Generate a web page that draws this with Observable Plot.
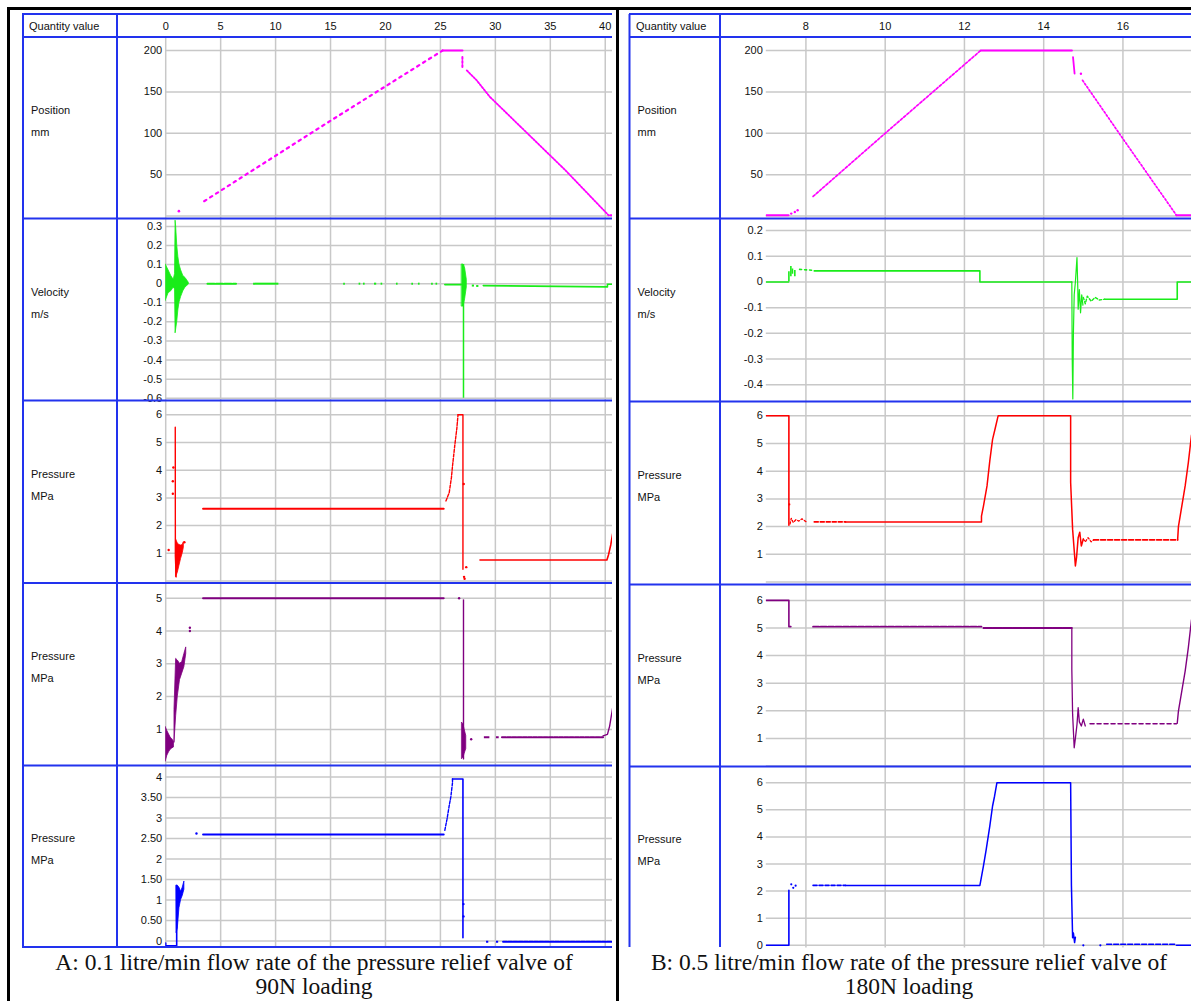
<!DOCTYPE html>
<html><head><meta charset="utf-8">
<script src="https://cdn.jsdelivr.net/npm/d3@7"></script>
<script src="https://cdn.jsdelivr.net/npm/@observablehq/plot@0.6"></script>
<style>
body{margin:0;background:#fff;}
#wrap{position:relative;width:1191px;height:1001px;overflow:hidden;background:#fff;font-family:"Liberation Sans",Arial,sans-serif;}
.lbl{position:absolute;font-size:11px;color:#111;line-height:13px;transform:translateY(-50%);white-space:nowrap;}
.cap{position:absolute;font-family:"Liberation Serif","Times New Roman",serif;font-size:23.5px;color:#111;text-align:center;line-height:23.5px;white-space:pre;}
svg.ov{position:absolute;left:0;top:0;pointer-events:none;}
</style></head><body><div id="wrap"></div>
<script>
// ---------- axis ticks ----------
const xTicksA = [0,5,10,15,20,25,30,35,40];
const xTicksB = [8,10,12,14,16];
const yTicksPos = [50,100,150,200];
const yGridPos = [0,50,100,150,200];
const yTicksVelA = [0.3,0.2,0.1,0,-0.1,-0.2,-0.3,-0.4,-0.5,-0.6];
const yTicksVelB = [0.2,0.1,0,-0.1,-0.2,-0.3,-0.4];
const yTicksP6 = [1,2,3,4,5,6];
const yGridP6 = [0,1,2,3,4,5,6];
const yTicksP5 = [1,2,3,4,5];
const yGridP5 = [0,1,2,3,4,5];
const yTicksA5 = [0,0.5,1,1.5,2,2.5,3,3.5,4];
const yTicksB5 = [0,1,2,3,4,5,6];
const rowNames = [["Position","mm"],["Velocity","m/s"],["Pressure","MPa"],["Pressure","MPa"],["Pressure","MPa"]];
const headerText = "Quantity value";
const captionA = ["A: 0.1 litre/min flow rate of the pressure relief valve of","90N loading"];
const captionB = ["B: 0.5 litre/min flow rate of the pressure relief valve of","180N loading"];

// ---------- Panel A data (time s, value) ----------
const posA_dot = [[1.2,6]];
const posA_rise = [[3.5,18],[14.5,111],[25.2,200]];
const posA_top = [[25.2,200],[27.0,200]];
const posA_drop = [[27.0,192],[27.0,178]];
const posA_fall = [[27.4,176],[28.3,164],[29.5,144],[36.4,55],[40.3,1],[40.67,1]];

const velA_env = [[0.0,-0.09,0.1],[0.26,-0.05,0.07],[0.5,-0.04,0.04],[0.73,-0.02,0.02],[0.85,-0.03,0.05],[0.9,-0.26,0.33],[0.95,-0.24,0.3],[1.05,-0.2,0.2],[1.15,-0.14,0.14],[1.25,-0.1,0.1],[1.4,-0.07,0.07],[1.6,-0.04,0.04],[1.8,-0.02,0.03],[2.1,-0.005,0.005]];
const velA_segs = [[3.8,6.4,0],[8.0,10.3,0]];
const velA_bits = [[16.2,16.35,0],[17.6,17.75,0],[18.0,18.15,0],[19.0,19.2,0],[19.6,19.75,0],[21.0,21.15,0],[22.4,22.55,0],[23.0,23.15,0],[24.2,24.35,0],[24.6,24.75,0],[27.9,28.1,-0.01],[28.3,28.5,-0.012]];
const velA_pre = [[25.4,-0.005],[26.9,-0.005]];
const velA_spike = [[27.1,-0.6,0.1]];
const velA_env2 = [[26.97,-0.12,0.1],[27.1,-0.12,0.1],[27.25,-0.08,0.08],[27.4,-0.02,0.02]];
const velA_tail = [[28.9,-0.01],[40.2,-0.017],[40.2,-0.003],[40.67,-0.003]];

const prA_dots = [[0.27,1.12],[0.7,4.1],[0.65,3.6],[0.65,3.15],[1.7,1.4],[27.12,3.5],[27.15,0.15],[27.35,0.5],[27.2,0.08]];
const prA_spike = [[0.87,5.55],[0.88,0.9],[0.95,0.15]];
const prA_env = [[0.95,0.15,1.5],[1.1,0.3,1.35],[1.25,0.55,1.3],[1.4,0.8,1.28],[1.55,1.0,1.3],[1.65,1.2,1.4]];
const prA_flat1 = [[3.4,2.61],[25.3,2.61]];
const prA_rise = [[25.5,2.89],[25.8,3.19],[26.0,3.73],[26.1,4.15],[26.3,4.87],[26.5,5.53],[26.6,6.0]];
const prA_top = [[26.6,6.0],[27.05,6.0],[27.05,0.42]];
const prA_flat2 = [[28.6,0.76],[40.15,0.76],[40.3,0.95],[40.5,1.3],[40.67,1.7]];

const puA_env1 = [[0.0,0.02,1.07],[0.15,0.2,0.95],[0.3,0.3,0.85],[0.45,0.38,0.75],[0.6,0.42,0.7],[0.75,0.45,0.62]];
const puA_env2 = [[0.8,0.6,1.6],[0.95,1.4,3.15],[1.1,2.0,3.1],[1.3,2.5,3.0],[1.5,2.7,3.05],[1.7,2.9,3.3],[1.87,3.3,3.5]];
const puA_dots = [[2.2,4.0],[2.2,4.1],[26.7,5.0],[27.8,0.7]];
const puA_flat1 = [[3.4,5.0],[25.3,5.0]];
const puA_drop = [[27.1,4.95],[27.1,0.1]];
const puA_env3 = [[26.98,0.1,1.2],[27.1,0.15,1.15],[27.2,0.25,1.0],[27.35,0.4,0.8]];
const puA_bits = [[29.0,29.5,0.76],[30.1,30.35,0.76]];
const puA_flat2 = [[30.6,0.76],[39.8,0.76]];
const puA_rise = [[39.8,0.8],[40.2,0.85],[40.4,1.1],[40.67,1.65]];

const blA_start = [[0.0,-0.05],[0.0,-0.12],[1.0,-0.12],[1.0,1.35]];
const blA_env = [[1.0,0.2,1.35],[1.1,0.3,1.35],[1.25,0.8,1.3],[1.4,1.0,1.2],[1.55,1.1,1.3],[1.7,1.25,1.45]];
const blA_dots = [[2.8,2.62],[27.1,0.9],[27.1,0.6]];
const blA_flat1 = [[3.4,2.6],[25.3,2.6]];
const blA_rise = [[25.4,2.7],[25.6,2.97],[25.8,3.3],[25.95,3.52],[26.1,3.86],[26.1,3.95]];
const blA_top = [[26.1,3.95],[27.05,3.95],[27.05,0.08]];
const blA_bits = [[29.2,29.4,-0.02],[30.1,30.3,-0.02]];
const blA_flat2 = [[30.7,-0.02],[40.67,-0.02]];

// ---------- Panel B data ----------
const posB_flat1 = [[7.0,1],[7.56,1]];
const posB_dots = [[7.63,3],[7.72,5],[7.79,7],[14.94,172]];
const posB_rise = [[8.18,23.7],[10.0,100],[12.41,200]];
const posB_top = [[12.41,200],[14.71,200]];
const posB_drop = [[14.74,192],[14.78,172]];
const posB_fall = [[14.98,164],[15.91,99.6],[17.35,1]];
const posB_flat2 = [[17.35,1],[17.73,1]];

const velB_a = [[7.0,0],[7.56,0]];
const velB_burst = [[7.57,0.0,0.04],[7.62,0.02,0.06],[7.66,0.03,0.05],[7.72,0.02,0.045]];
const velB_dash = [[7.84,0.049],[8.21,0.045]];
const velB_b = [[8.21,0.043],[12.39,0.043],[12.39,0],[14.71,0]];
const velB_spike = [[14.71,0],[14.72,-0.3],[14.735,-0.455],[14.75,-0.2],[14.77,-0.05],[14.8,0.0],[14.84,0.095],[14.86,-0.02],[14.87,-0.106],[14.9,-0.03],[14.93,-0.12],[14.96,-0.05],[14.99,-0.09]];
const velB_osc = [[15.0,-0.06],[15.05,-0.085],[15.1,-0.055],[15.2,-0.075],[15.3,-0.06],[15.4,-0.07],[15.54,-0.067]];
const velB_c = [[15.54,-0.067],[17.37,-0.067],[17.37,0],[17.73,0]];

const prB_a = [[7.0,6],[7.57,6],[7.57,2.05]];
const prB_dots = [[7.58,2.8]];
const prB_osc = [[7.6,2.1],[7.63,2.3],[7.68,2.15],[7.75,2.25],[7.82,2.2],[7.9,2.28],[8.0,2.18]];
const prB_dash1 = [[8.21,2.17],[9.0,2.17]];
const prB_flat = [[9.0,2.17],[12.43,2.17],[12.43,2.38],[12.48,2.74],[12.57,3.47],[12.64,4.37],[12.71,5.15],[12.78,5.57],[12.85,6.0],[14.68,6],[14.68,3.6],[14.73,1.9],[14.8,0.58],[14.83,0.9],[14.87,1.6],[14.91,1.8],[14.95,1.3],[15.0,1.55]];
const prB_osc2 = [[15.0,1.55],[15.05,1.45],[15.12,1.6],[15.2,1.45],[15.26,1.52]];
const prB_dash2 = [[15.26,1.52],[17.38,1.52]];
const prB_rise = [[17.38,1.52],[17.4,2.0],[17.57,3.47],[17.65,4.31],[17.73,5.3]];

const puB_a = [[7.0,6],[7.57,6],[7.57,5.05],[7.62,5.05]];
const puB_dash1 = [[8.18,5.05],[12.43,5.05]];
const puB_dash2 = [[12.48,5.0],[14.71,5.0]];
const puB_drop = [[14.71,5.0],[14.71,3.5],[14.73,1.87],[14.77,0.66],[14.8,1.0],[14.84,1.5],[14.87,2.11],[14.9,1.6],[14.95,1.45],[15.0,1.7],[15.05,1.45]];
const puB_dash3 = [[15.17,1.53],[17.35,1.53]];
const puB_rise = [[17.37,1.55],[17.4,1.99],[17.57,3.44],[17.65,4.29],[17.73,5.3]];

const blB_a = [[7.0,0],[7.57,0],[7.57,2.03]];
const blB_dots = [[7.63,2.25],[7.68,2.12],[7.74,2.2],[15.0,0.0],[15.43,0.0]];
const blB_dash1 = [[8.18,2.21],[9.0,2.21]];
const blB_main = [[9.0,2.21],[12.39,2.21],[12.41,2.37],[12.48,2.93],[12.55,3.54],[12.64,4.4],[12.71,5.14],[12.76,5.5],[12.82,6.0],[14.68,6],[14.7,2.2],[14.73,0.28],[14.75,0.45],[14.78,0.1],[14.8,0.3]];
const blB_dash2 = [[15.59,0.04],[17.35,0.04]];
const blB_end = [[17.35,0],[17.73,0]];

// ---------- styles ----------
const MAG = "#ff00ff", GRN = "#19ec19", RED = "#ff0000", PUR = "#800080", BLU = "#0000ff";
const GRID = "#c8c8c8", TAB = "#2233ee";

const X = d => d[0], Y = d => d[1];
const L = (data, c, o = {}) => Plot.line(data, {x: X, y: Y, stroke: c, strokeWidth: 1.6, clip: true, ...o});
const E = (data, c) => Plot.areaY(data, {x: X, y1: d => d[1], y2: d => d[2], fill: c, stroke: c, strokeWidth: 0.8, clip: true});
const D = (data, c, r = 1.2) => Plot.dot(data, {x: X, y: Y, r, fill: c, stroke: null, clip: true});
const S = (data, c, o = {}) => Plot.ruleY(data, {x1: d => d[0], x2: d => d[1], y: d => d[2], stroke: c, strokeWidth: 1.6, clip: true, ...o});
const R = (data, c, w = 1.4) => Plot.ruleX(data, {x: X, y1: d => d[1], y2: d => d[2], stroke: c, strokeWidth: w, clip: true});

const fmtStr = d => String(d);
const fmtHalf = d => Number.isInteger(d) ? String(d) : d.toFixed(2);

const panels = [
  {
    left: 117, plotLeft: 165.2, right: 612, xDomain: [0, 40.66], xTicks: xTicksA,
    rows: [37, 218.5, 400.5, 583, 765.5, 947], labelX: 31, headX: 29,
    specs: [
      {yDomain: [-3.5, 215.7], yTicks: yTicksPos, yGrid: yGridPos, fmt: fmtStr, marks: [
        D(posA_dot, MAG, 1.3),
        L(posA_rise, MAG, {strokeWidth: 2.2, strokeDasharray: "2.5,4.5"}),
        L(posA_top, MAG, {strokeWidth: 2.2}),
        L(posA_drop, MAG, {strokeWidth: 2, strokeDasharray: "2,2"}),
        L(posA_fall, MAG, {strokeWidth: 1.8, strokeDasharray: "1.6,1.6"})]},
      {yDomain: [-0.617, 0.336], yTicks: yTicksVelA, yGrid: yTicksVelA, fmt: fmtStr, marks: [
        E(velA_env, GRN),
        L([[velA_segs[0][0], 0], [velA_segs[0][1], 0]], GRN, {strokeWidth: 2, strokeDasharray: "7,1.5"}),
        S(velA_segs.slice(1), GRN, {strokeWidth: 2}),
        S(velA_bits, GRN, {strokeWidth: 2}),
        L(velA_pre, GRN),
        E(velA_env2, GRN),
        R(velA_spike, GRN, 1.5),
        L(velA_tail, GRN)]},
      {yDomain: [-0.108, 6.48], yTicks: yTicksP6, yGrid: yGridP6, fmt: fmtStr, marks: [
        D(prA_dots, RED, 1.2),
        L(prA_spike, RED, {strokeWidth: 1.4}),
        E(prA_env, RED),
        L(prA_flat1, RED, {strokeWidth: 2}),
        L(prA_rise, RED, {strokeWidth: 1.4, strokeDasharray: "3,1.5"}),
        L(prA_top, RED, {strokeWidth: 1.4}),
        L(prA_flat2, RED, {strokeWidth: 1.6})]},
      {yDomain: [-0.116, 5.448], yTicks: yTicksP5, yGrid: yGridP5, fmt: fmtStr, marks: [
        E(puA_env1, PUR),
        E(puA_env2, PUR),
        D(puA_dots, PUR, 1.2),
        L(puA_flat1, PUR, {strokeWidth: 2}),
        L(puA_drop, PUR, {strokeWidth: 1.4}),
        E(puA_env3, PUR),
        S(puA_bits, PUR, {strokeWidth: 2}),
        L(puA_flat2, PUR, {strokeWidth: 2, strokeDasharray: "4,1.2"}),
        L(puA_rise, PUR, {strokeWidth: 1.4})]},
      {yDomain: [-0.171, 4.256], yTicks: yTicksA5, yGrid: yTicksA5, fmt: fmtHalf, marks: [
        L(blA_start, BLU, {strokeWidth: 1.6}),
        E(blA_env, BLU),
        D(blA_dots, BLU, 1.2),
        L(blA_flat1, BLU, {strokeWidth: 2}),
        L(blA_rise, BLU, {strokeWidth: 1.4, strokeDasharray: "3,1.5"}),
        L(blA_top, BLU, {strokeWidth: 1.6}),
        S(blA_bits, BLU, {strokeWidth: 2}),
        L(blA_flat2, BLU, {strokeWidth: 2, strokeDasharray: "4,1.2"})]}
    ]
  },
  {
    left: 720, plotLeft: 765.8, right: 1191, xDomain: [7, 17.73], xTicks: xTicksB,
    rows: [37, 218.5, 401.5, 584.5, 766.5, 947], labelX: 637.5, headX: 636,
    specs: [
      {yDomain: [-3.5, 215.7], yTicks: yTicksPos, yGrid: yGridPos, fmt: fmtStr, marks: [
        L(posB_flat1, MAG, {strokeWidth: 2.2}),
        D(posB_dots, MAG, 1.2),
        L(posB_rise, MAG, {strokeWidth: 1.7, strokeDasharray: "2.5,1.8"}),
        L(posB_top, MAG, {strokeWidth: 2.2}),
        L(posB_drop, MAG, {strokeWidth: 1.8}),
        L(posB_fall, MAG, {strokeWidth: 1.7, strokeDasharray: "1.8,2"}),
        L(posB_flat2, MAG, {strokeWidth: 2.2})]},
      {yDomain: [-0.469, 0.243], yTicks: yTicksVelB, yGrid: yTicksVelB, fmt: fmtStr, marks: [
        L(velB_a, GRN),
        R(velB_burst, GRN, 1.6),
        L(velB_dash, GRN, {strokeDasharray: "2,3"}),
        L(velB_b, GRN),
        L(velB_spike, GRN, {strokeWidth: 1.2}),
        L(velB_osc, GRN, {strokeWidth: 1.4, strokeDasharray: "2.5,2"}),
        L(velB_c, GRN)]},
      {yDomain: [-0.126, 6.48], yTicks: yTicksP6, yGrid: yGridP6, fmt: fmtStr, marks: [
        L(prB_a, RED),
        D(prB_dots, RED, 1.1),
        L(prB_osc, RED, {strokeWidth: 1.3, strokeDasharray: "2,2"}),
        L(prB_dash1, RED, {strokeDasharray: "4,2"}),
        L(prB_flat, RED, {strokeWidth: 1.5}),
        L(prB_osc2, RED, {strokeWidth: 1.3, strokeDasharray: "2,2"}),
        L(prB_dash2, RED, {strokeDasharray: "5,2"}),
        L(prB_rise, RED, {strokeWidth: 1.5})]},
      {yDomain: [-0.054, 6.54], yTicks: yTicksP6, yGrid: yGridP6, fmt: fmtStr, marks: [
        L(puB_a, PUR),
        L(puB_dash1, PUR, {strokeWidth: 1.8, strokeDasharray: "6,1.5"}),
        L(puB_dash2, PUR, {strokeWidth: 1.8, strokeDasharray: "9,1"}),
        L(puB_drop, PUR, {strokeWidth: 1.3}),
        L(puB_dash3, PUR, {strokeWidth: 1.6, strokeDasharray: "4,3"}),
        L(puB_rise, PUR, {strokeWidth: 1.4})]},
      {yDomain: [-0.1, 6.56], yTicks: yTicksB5, yGrid: yTicksB5, fmt: fmtStr, marks: [
        L(blB_a, BLU),
        D(blB_dots, BLU, 1.1),
        L(blB_dash1, BLU, {strokeDasharray: "4,2"}),
        L(blB_main, BLU, {strokeWidth: 1.5}),
        L(blB_dash2, BLU, {strokeDasharray: "5,2"}),
        L(blB_end, BLU)]}
    ]
  }
];

const wrap = document.getElementById("wrap");

function addDiv(cls, text, left, top, extra = {}) {
  const el = document.createElement("div");
  el.className = cls;
  el.textContent = text;
  el.style.left = left + "px";
  el.style.top = top + "px";
  Object.assign(el.style, extra);
  wrap.appendChild(el);
  return el;
}

panels.forEach(p => {
  p.specs.forEach((spec, i) => {
    const top = i === 0 ? 14 : p.rows[i];
    const bottom = p.rows[i + 1];
    const mTop = i === 0 ? p.rows[0] - 14 : 0;
    const marks = [
      Plot.gridX(p.xTicks, {stroke: GRID, strokeOpacity: 1, strokeWidth: 1.5}),
      Plot.gridY(spec.yGrid, {stroke: GRID, strokeOpacity: 1, strokeWidth: 1.5}),
      Plot.axisY(spec.yTicks, {tickSize: 0, tickPadding: 3.5, tickFormat: spec.fmt, label: null, fontSize: 11})
    ];
    if (i === 0) {
      marks.push(Plot.axisX(p.xTicks, {anchor: "top", tickSize: 0, tickPadding: 11, lineAnchor: "middle", tickFormat: fmtStr, label: null, fontSize: 11}));
    }
    const chart = Plot.plot({
      width: p.right - p.left,
      height: bottom - top,
      marginLeft: p.plotLeft - p.left,
      marginRight: 0,
      marginTop: mTop,
      marginBottom: 0,
      x: {domain: p.xDomain, axis: null},
      y: {domain: spec.yDomain, axis: null},
      style: {fontFamily: "'Liberation Sans', Arial, sans-serif", fontSize: "11px", background: "transparent", overflow: "visible", color: "#111"},
      marks: [...marks, ...spec.marks]
    });
    chart.style.position = "absolute";
    chart.style.left = p.left + "px";
    chart.style.top = top + "px";
    chart.style.maxWidth = "none";
    wrap.appendChild(chart);
    const c = (p.rows[i] + p.rows[i + 1]) / 2;
    addDiv("lbl", rowNames[i][0], p.labelX, c - 18);
    addDiv("lbl", rowNames[i][1], p.labelX, c + 4);
  });
  addDiv("lbl", headerText, p.headX, 25.5);
});

// captions (one block each, two lines)
addDiv("cap", captionA.join("\n"), 8, 951, {width: "612px"});
addDiv("cap", captionB.join("\n"), 620, 951, {width: "578px"});

// frame / table lines overlay
const ns = "http://www.w3.org/2000/svg";
const ov = document.createElementNS(ns, "svg");
ov.setAttribute("class", "ov");
ov.setAttribute("width", 1191);
ov.setAttribute("height", 1001);
function ln(x1, y1, x2, y2, c, w) {
  const l = document.createElementNS(ns, "line");
  l.setAttribute("x1", x1); l.setAttribute("y1", y1);
  l.setAttribute("x2", x2); l.setAttribute("y2", y2);
  l.setAttribute("stroke", c); l.setAttribute("stroke-width", w);
  ov.appendChild(l);
}
[14, 37, 218.5, 400.5, 583, 765.5, 947].forEach(y => ln(22, y, 612, y, TAB, 2));
ln(23, 14, 23, 947, TAB, 2);
ln(117, 14, 117, 947, TAB, 2);
[14, 37, 218.5, 401.5, 584.5, 766.5].forEach(y => ln(629, y, 1191, y, TAB, 2));
ln(629.5, 14, 629.5, 947, TAB, 2);
ln(720, 14, 720, 947, TAB, 2);
ln(7, 8.5, 1191, 8.5, "#000", 3);
ln(8.5, 7, 8.5, 1001, "#000", 3);
ln(617.5, 7, 617.5, 1001, "#000", 3);
wrap.appendChild(ov);
</script></body></html>
